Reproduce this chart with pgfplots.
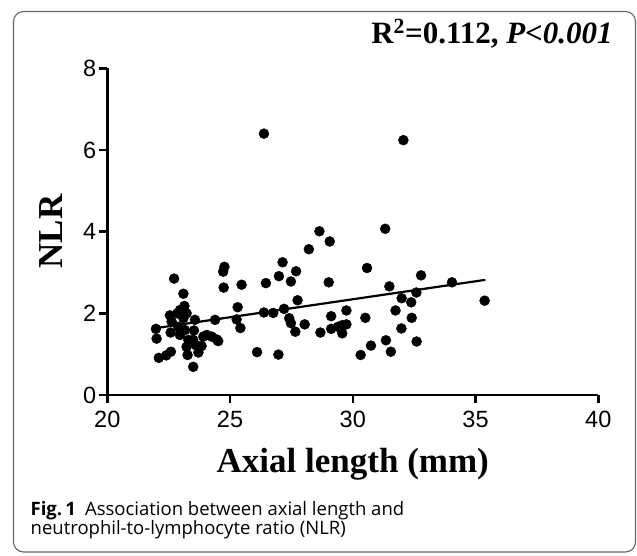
\documentclass[border=0pt]{standalone}
\usepackage{fontspec}
\setmainfont{Liberation Sans}
\newfontfamily\tnr{Liberation Serif}
\newfontfamily\capfont{Open Sans}
\usepackage{pgfplots}
\pgfplotsset{compat=1.18}
\begin{document}
\begin{tikzpicture}
\path[use as bounding box] (0pt,0pt) rectangle (637pt,-555pt);
\draw[line width=1.1pt, black!60, rounded corners=10pt] (13.5pt,-11.5pt) rectangle (635.5pt,-552pt);
\begin{axis}[
  at={(107.3pt,-395pt)}, anchor=south west,
  scale only axis, width=491pt, height=326.7pt,
  xmin=20, xmax=40, ymin=0, ymax=8,
  xtick={20,25,30,35,40}, ytick={0,2,4,6,8},
  axis lines=left,
  axis line style={-, line width=2.7pt},
  tick style={line width=2.5pt, black},
  tick align=outside,
  major tick length=8pt,
  ticklabel style={font=\fontsize{23.5}{27}\selectfont, inner sep=2pt},
  xticklabel style={yshift=-6pt},
  yticklabel style={xshift=-1pt},
  /pgf/number format/assume math mode=true,
  xlabel={Axial length (mm)},
  ylabel={NLR},
  label style={font=\tnr\bfseries\fontsize{35}{40}\selectfont},
  x label style={at={(axis description cs:0.5,-0.212)}, anchor=center},
  y label style={at={(axis description cs:-0.114,0.5)}, anchor=center},
  clip=false,
]
%% individual patients
\addplot[only marks, mark=*, mark size=5pt, mark options={fill=black, draw=black}] coordinates {
(21.98,1.62)(22.01,1.38)(22.10,0.91)(22.40,0.97)(22.59,1.06)(22.55,1.95)
(22.62,1.80)(22.58,1.53)(22.72,2.85)(22.85,2.00)(22.96,2.08)(23.10,2.48)
(23.14,2.18)(23.23,2.00)(23.10,1.88)(22.89,1.67)(22.96,1.47)(23.16,1.59)
(23.30,1.35)(23.23,1.18)(23.27,0.98)(23.50,0.69)(23.57,1.84)(23.53,1.58)
(23.50,1.35)(23.61,1.22)(23.71,1.04)(23.84,1.20)(23.91,1.43)(24.05,1.47)
(24.25,1.43)(24.39,1.84)(24.46,1.36)(24.52,1.32)
(26.38,6.40)(32.06,6.24)(28.64,4.01)(31.32,4.07)(29.06,3.76)(28.21,3.57)
(27.14,3.25)(27.69,3.03)(26.99,2.91)(27.48,2.78)(26.46,2.74)(24.77,3.14)
(24.72,3.02)(24.74,2.63)(25.47,2.70)(30.58,3.11)(29.02,2.76)(31.49,2.66)
(32.78,2.93)(34.04,2.76)(35.37,2.31)(32.59,2.51)(31.99,2.37)(32.38,2.27)
(27.75,2.32)(27.20,2.11)(26.76,2.01)(26.38,2.02)(25.31,2.15)(25.27,1.85)
(25.42,1.64)(27.41,1.88)(27.48,1.76)(28.04,1.73)(27.66,1.55)(28.68,1.53)
(29.12,1.93)(29.12,1.62)(29.40,1.67)(29.57,1.71)(29.74,1.73)(29.57,1.51)
(29.74,2.07)(30.51,1.89)(31.74,2.07)(32.40,1.89)(31.98,1.63)(31.35,1.34)
(32.60,1.31)(30.74,1.21)(31.55,1.06)(30.32,0.98)(26.97,0.99)(26.10,1.05)
};
%% linear fit
\addplot[black, line width=2.2pt, no marks] coordinates {(22.0,1.64)(35.4,2.82)};
\end{axis}
\node[anchor=base, font=\tnr\bfseries\fontsize{31}{36}\selectfont] at (492pt,-43pt)
  {R\textsuperscript{2}=0.112, \textit{P<0.001}};
\node[anchor=base west, font=\capfont\fontsize{18.5}{22}\selectfont, inner sep=0pt] at (30.5pt,-515pt)
  {\textbf{Fig.\,1}\enspace Association between axial length and};
\node[anchor=base west, font=\capfont\fontsize{18.5}{22}\selectfont, inner sep=0pt] at (30.5pt,-534.5pt)
  {neutrophil-to-lymphocyte ratio (NLR)};
\end{tikzpicture}
\end{document}
